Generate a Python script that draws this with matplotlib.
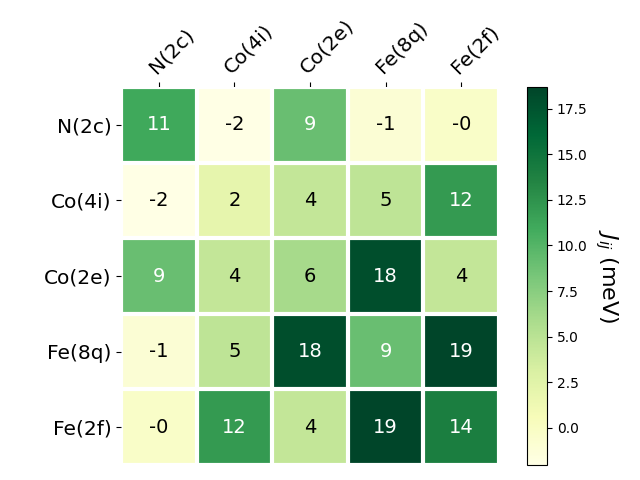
import numpy as np
import matplotlib
matplotlib.use("Agg")
import matplotlib.pyplot as plt

labels = ["N(2c)", "Co(4i)", "Co(2e)", "Fe(8q)", "Fe(2f)"]
row_n2c = [11.0, -2.05, 9.0, -1.0, -0.3]
row_co4i = [-2.05, 2.0, 4.4, 4.7, 12.0]
row_co2e = [9.0, 4.4, 6.0, 17.9, 4.4]
row_fe8q = [-1.0, 4.7, 17.9, 9.0, 18.7]
row_fe2f = [-0.3, 12.0, 4.4, 18.7, 14.0]

data = np.array([row_n2c, row_co4i, row_co2e, row_fe8q, row_fe2f])

W, H = 640, 480
fig = plt.figure(figsize=(6.4, 4.8), dpi=100)
ax = fig.add_axes([121 / W, (H - 465) / H, 378 / W, 378 / H])
cax = fig.add_axes([527 / W, (H - 465) / H, 20 / W, 378 / H])

im = ax.imshow(data, cmap="YlGn")
cbar = fig.colorbar(im, cax=cax)
cbar.set_label(r"$J_{ij}$ (meV)", rotation=-90, va="bottom", fontsize=16)

ax.set_xticks(np.arange(len(labels)), labels=labels, fontsize=14.5)
ax.set_yticks(np.arange(len(labels)), labels=labels, fontsize=14.5)
ax.tick_params(top=True, bottom=False, labeltop=True, labelbottom=False)
plt.setp(ax.get_xticklabels(), rotation=45, ha="left", rotation_mode="anchor")

for s in ax.spines.values():
    s.set_visible(False)
ax.set_xticks(np.arange(data.shape[1] + 1) - .5, minor=True)
ax.set_yticks(np.arange(data.shape[0] + 1) - .5, minor=True)
ax.grid(which="minor", color="w", linestyle="-", linewidth=3)
ax.tick_params(which="minor", bottom=False, left=False, top=False)

threshold = im.norm(data.max()) / 2.0
for i in range(data.shape[0]):
    for j in range(data.shape[1]):
        color = "white" if im.norm(data[i, j]) > threshold else "black"
        ax.text(j, i, f"{data[i, j]:.0f}", ha="center", va="center",
                color=color, fontsize=14)

fig.savefig("out.png")
